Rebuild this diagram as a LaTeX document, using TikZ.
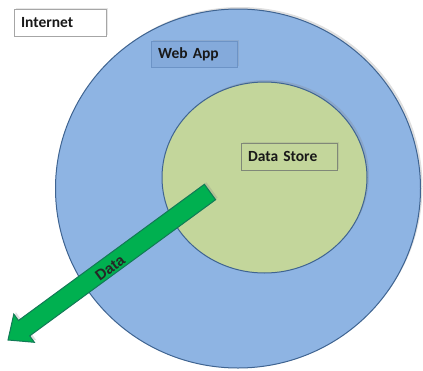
\documentclass[tikz,border=0pt]{standalone}
\usepackage{fontspec}
\setmainfont{Carlito}
\newfontfamily\arrowfont{Liberation Sans}
\usetikzlibrary{shapes.geometric,shadows}
\definecolor{outerblue}{HTML}{8EB4E3}
\definecolor{borderblue}{HTML}{3F6491}
\definecolor{innergreen}{HTML}{C3D69B}
\definecolor{arrowgreen}{HTML}{00B050}
\definecolor{arrowedge}{HTML}{127A56}
\definecolor{appbox}{HTML}{84AADB}
\definecolor{appedge}{HTML}{6C93C6}
\definecolor{storeedge}{HTML}{808878}
\definecolor{netedge}{HTML}{A6A6A6}
\tikzset{
  ring/.style={ellipse, draw=borderblue, line width=1pt, inner sep=0pt,
    drop shadow={shadow xshift=2pt, shadow yshift=2pt, opacity=0.25}},
  labelbox/.style={rectangle, line width=0.8pt, inner xsep=7pt, inner ysep=0pt,
    align=left, font=\fontsize{15.5}{18}\selectfont\bfseries, text=black!90,
    drop shadow={shadow xshift=1.5pt, shadow yshift=1.5pt, opacity=0.2}},
  blockarrow/.style={fill=arrowgreen, draw=arrowedge, line width=1pt, line join=miter},
}
\begin{document}
\begin{tikzpicture}[x=1pt,y=-1pt]
\useasboundingbox (0,0) rectangle (423,370);
% outer and inner circles
\node[ring, fill=outerblue, minimum width=365pt, minimum height=359pt] (webapp) at (238,188.5) {};
\node[ring, fill=innergreen, minimum width=205pt, minimum height=191pt] (store) at (264.5,177.5) {};
% label boxes
\node[labelbox, draw=netedge, fill=white, text width=78pt, minimum height=27pt] (internet) at (60,22.5) {Internet};
\node[labelbox, draw=appedge, fill=appbox, text width=72pt, minimum height=26pt] (webapplbl) at (194,54) {Web App};
\node[labelbox, draw=storeedge, fill=innergreen, text width=82pt, minimum height=27pt] (storelbl) at (289,156.5) {Data Store};
% data arrow
\coordinate (t2) at (204.4,184.3);
\coordinate (t1) at (215.6,199.7);
\coordinate (b2) at (18.5,320.5);
\coordinate (b1) at (29.7,335.9);
\coordinate (h2) at (13.8,314.1);
\coordinate (h1) at (34.4,342.3);
\coordinate (tip) at (8,340);
\draw[blockarrow, drop shadow={shadow xshift=2pt, shadow yshift=2pt, opacity=0.25}]
  (t2) -- (b2) -- (h2) -- (tip) -- (h1) -- (b1) -- (t1) -- cycle;
\node[rotate=36.2, inner sep=0pt, font=\arrowfont\fontsize{15}{17}\selectfont\bfseries, text=black!85] (datalbl) at (110,268) {Data};
\end{tikzpicture}
\end{document}
